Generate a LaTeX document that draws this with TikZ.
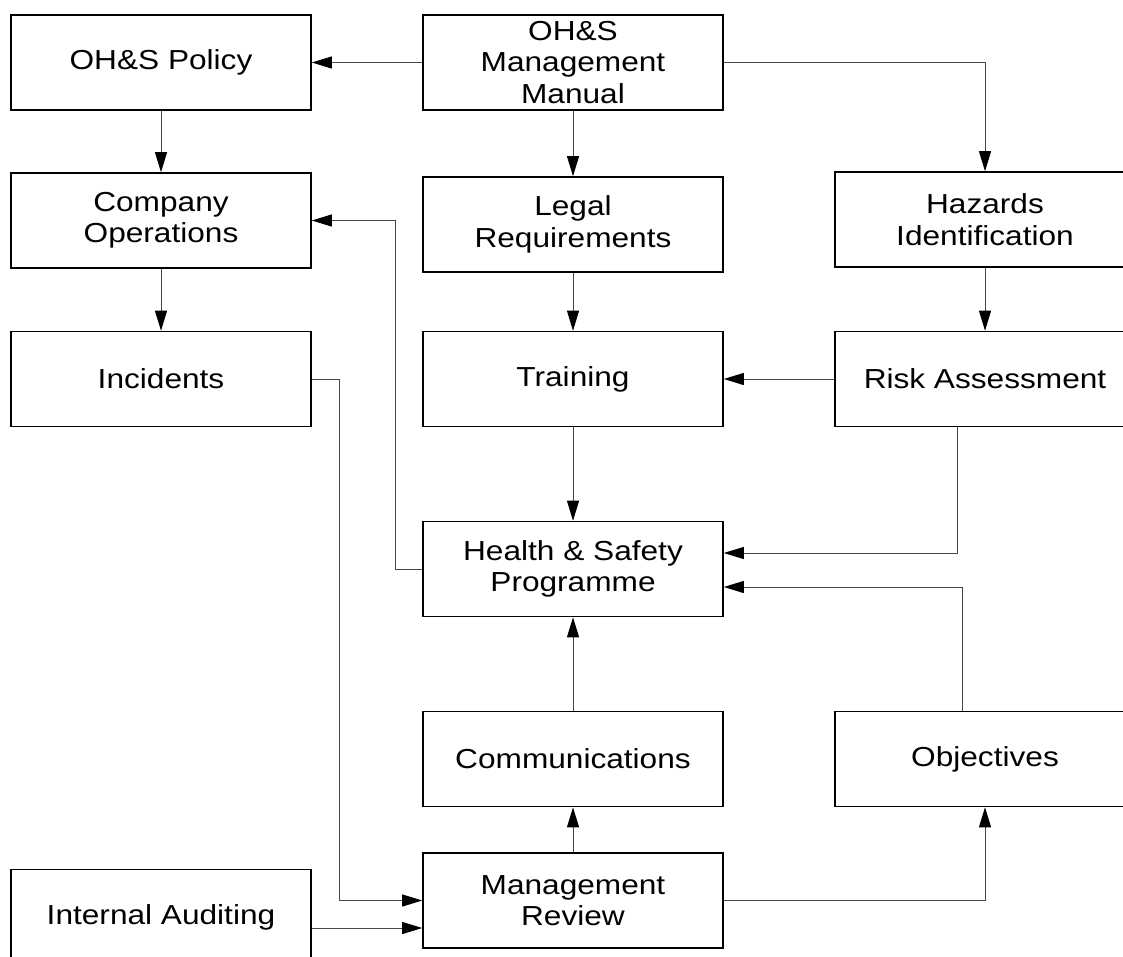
\documentclass[tikz,border=0pt]{standalone}
\usepackage{fontspec}
\setmainfont{Liberation Sans}[FakeStretch=1.15]
\usetikzlibrary{arrows.meta}
\begin{document}
\begin{tikzpicture}[x=1pt,y=-1pt,
  box/.style={draw=black,line width=1.6pt,fill=white,minimum width=300pt,minimum height=95pt,
    inner sep=0pt,align=center,font=\fontsize{27.5}{31.5}\selectfont},
  conn/.style={draw=black!72,line width=1pt,-{Triangle[length=20pt,width=12pt,color=black]}}]
\useasboundingbox (0,0) rectangle (1123,957);
\clip (0,0) rectangle (1123,957);
\fill[white] (0,0) rectangle (1123,957);

% left column
\node[box] (pol) at (161,62.5) {OH\&S Policy};
\node[box] (ops) at (161,220.5) {Company\\Operations};
\node[box] (inc) at (161,379) {Incidents};
\node[box] (aud) at (161,917) {Internal Auditing};

% middle column
\node[box] (man) at (573,62.5) {OH\&S\\Management\\Manual};
\node[box] (leg) at (573,224.5) {Legal\\Requirements};
\node[box] (trn) at (573,379) {Training};
\node[box] (prog) at (573,569) {Health \& Safety\\Programme};
\node[box] (com) at (573,759) {Communications};
\node[box] (mrev) at (573,900.5) {Management\\Review};

% right column
\node[box] (haz) at (985,219.5) {Hazards\\Identification};
\node[box] (risk) at (985,379) {Risk Assessment};
\node[box] (obj) at (985,759) {Objectives};

% connectors
\draw[conn] (man.west) -- (pol.east);
\draw[conn] (man.east) -| (haz.north);
\draw[conn] (man.south) -- (leg.north);
\draw[conn] (pol.south) -- (ops.north);
\draw[conn] (ops.south) -- (inc.north);
\draw[conn] (leg.south) -- (trn.north);
\draw[conn] (haz.south) -- (risk.south |- haz.south) -- (risk.north);
\draw[conn] (risk.west) -- (trn.east);
\draw[conn] (trn.south) -- (prog.north);
\draw[conn] ([xshift=-28pt]risk.south) |- ([yshift=16pt]prog.east);
\draw[conn] ([xshift=-23pt]obj.north) |- ([yshift=-18pt]prog.east);
\draw[conn] (prog.west) -- ++(-27,0) |- (ops.east);
\draw[conn] (inc.east) -- ++(28,0) |- (mrev.west);
\coordinate (audout) at ([yshift=-11pt]aud.east);
\draw[conn] (audout) -- (audout -| mrev.west);
\draw[conn] (mrev.north) -- (com.south);
\draw[conn] (com.north) -- (prog.south);
\draw[conn] (mrev.east) -| (obj.south);
\end{tikzpicture}
\end{document}
